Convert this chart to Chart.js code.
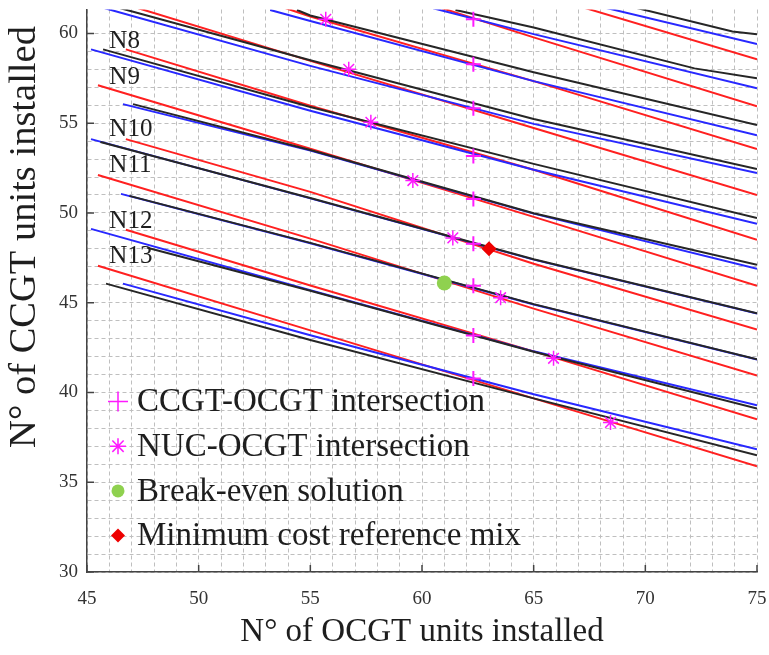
<!DOCTYPE html>
<html>
<head>
<meta charset="utf-8">
<script src="https://cdn.jsdelivr.net/npm/chart.js@4.4.0/dist/chart.umd.min.js"></script>
<style>
  html, body { margin: 0; padding: 0; background: #fff; }
</style>
</head>
<body>
<canvas id="plot" width="769" height="655"></canvas>
<script>
// one [x, y] polyline per nuclear level, top-right group first (N4 ... N13)
const redLines = [
  [[66.8, 61.6], [75, 58.55]],
  [[60.9, 61.4], [65, 59.78], [75, 55.94]],
  [[53.9, 61.4], [55, 60.94], [65, 57.34], [75, 53.56]],
  [[47.3, 61.4], [55, 58.47], [65, 54.73], [75, 51.0]],
  [[46.74, 59.11], [55, 55.97], [65, 52.4], [75, 48.5]],
  [[45.49, 57.11], [55, 53.57], [65, 49.78], [75, 45.94]],
  [[46.74, 54.11], [55, 51.17], [65, 47.17], [75, 43.5]],
  [[45.49, 52.11], [55, 48.57], [65, 44.67], [75, 40.94]],
  [[46.74, 49.06], [55, 45.96], [65, 42.29], [75, 38.5]],
  [[45.49, 47.06], [55, 43.46], [65, 39.67], [75, 35.89]]
];
const blueLines = [
  [[67.8, 61.55], [75, 59.4]],
  [[60.5, 61.4], [65, 59.96], [75, 56.94]],
  [[53.2, 61.3], [55, 60.69], [65, 57.34], [75, 54.33]],
  [[45.8, 61.4], [55, 58.19], [65, 54.96], [75, 52.22]],
  [[45.18, 59.11], [55, 55.69], [65, 52.4], [75, 49.39]],
  [[46.61, 56.06], [55, 53.47], [65, 49.96], [75, 46.89]],
  [[45.18, 54.11], [55, 50.81], [65, 47.4], [75, 44.39]],
  [[46.52, 51.06], [55, 48.31], [65, 44.9], [75, 41.83]],
  [[45.18, 49.11], [55, 45.69], [65, 42.29], [75, 39.28]],
  [[46.61, 46.06], [55, 43.19], [65, 39.9], [75, 36.83]]
];
const blackLines = [
  [[69.5, 61.45], [73.9, 60.1], [75, 59.95]],
  [[61.5, 61.3], [65, 60.33], [72.2, 58.05], [75, 57.5]],
  [[54.4, 61.3], [55, 61.0], [65, 57.84], [75, 54.89]],
  [[46.5, 61.4], [55, 58.5], [65, 55.23], [75, 52.44]],
  [[45.72, 59.11], [55, 55.9], [65, 52.73], [75, 49.72]],
  [[47.06, 56.06], [55, 53.5], [65, 49.98], [75, 47.11]],
  [[45.6, 53.95], [55, 50.83], [65, 47.42], [75, 44.41]],
  [[46.9, 50.95], [55, 48.33], [65, 44.92], [75, 41.85]],
  [[47.7, 48.06], [55, 45.67], [65, 42.27], [75, 39.11]],
  [[45.85, 46.06], [55, 42.92], [65, 39.67], [75, 36.5]]
];

const ccgtOcgt = [
  [62.3, 60.78], [62.3, 58.28], [62.3, 55.83], [62.3, 53.17], [62.3, 50.78],
  [62.3, 48.28], [62.3, 45.94], [62.3, 43.17], [62.3, 40.78]
];
const nucOcgt = [
  [55.69, 60.78], [56.72, 58.0], [57.71, 55.05], [59.59, 51.8],
  [61.38, 48.61], [63.52, 45.28], [65.89, 41.9], [68.44, 38.33]
];
const breakEven = [[61.0, 46.1]];
const minCostMix = [[63.0, 48.0]];

const levelNames = ['N8', 'N9', 'N10', 'N11', 'N12', 'N13'];
const levelX = [46, 46, 46, 46, 46, 46];
const levelY = [59.55, 57.55, 54.65, 52.65, 49.5, 47.6];

const xTicks = [45, 50, 55, 60, 65, 70, 75];
const yTicks = [30, 35, 40, 45, 50, 55, 60];

const SERIF = '"Liberation Serif", "Times New Roman", serif';
const MAGENTA = '#ff1aff';

const toXY = pts => pts.map(([x, y]) => ({ x, y }));

function lineSets(lines, color) {
  return lines.map(pts => ({
    data: toXY(pts),
    showLine: true,
    borderColor: color,
    borderWidth: 2,
    pointRadius: 0,
    fill: false,
    clip: 0,
    order: 2
  }));
}

const legendItems = [
  { text: 'CCGT-OCGT intersection', pointStyle: 'cross', color: MAGENTA, radius: 10, borderWidth: 3, fill: false },
  { text: 'NUC-OCGT intersection', pointStyle: 'star', color: MAGENTA, radius: 8, borderWidth: 2, fill: false },
  { text: 'Break-even solution', pointStyle: 'circle', color: '#8fd14f', radius: 6.5, borderWidth: 0, fill: true },
  { text: 'Minimum cost reference mix', pointStyle: 'rectRot', color: '#ee0000', radius: 7, borderWidth: 0, fill: true }
];

// axis title on the left, inward ticks, level tags and the legend
const decorations = {
  id: 'decorations',
  afterDraw(chart) {
    const { ctx, chartArea: area, scales: { x, y } } = chart;
    ctx.save();

    ctx.strokeStyle = '#444';
    ctx.lineWidth = 1.5;
    ctx.beginPath();
    xTicks.forEach(v => {
      const px = x.getPixelForValue(v);
      ctx.moveTo(px, area.bottom);
      ctx.lineTo(px, area.bottom - 7);
    });
    yTicks.forEach(v => {
      const py = y.getPixelForValue(v);
      ctx.moveTo(area.left, py);
      ctx.lineTo(area.left + 7, py);
    });
    ctx.stroke();

    ctx.fillStyle = '#1e1e1e';
    ctx.textAlign = 'left';
    ctx.textBaseline = 'middle';
    ctx.font = '25px ' + SERIF;
    levelNames.forEach((name, i) => {
      ctx.fillText(name, x.getPixelForValue(levelX[i]), y.getPixelForValue(levelY[i]));
    });

    // legend, inside the axes at the lower left
    const lx = area.left + 31;
    let ly = area.top + 392;
    legendItems.forEach(item => {
      ctx.save();
      ctx.strokeStyle = item.color;
      ctx.fillStyle = item.fill ? item.color : 'rgba(0,0,0,0)';
      Chart.helpers.drawPoint(ctx, {
        pointStyle: item.pointStyle, radius: item.radius,
        borderWidth: item.borderWidth, rotation: 0
      }, lx, ly);
      ctx.restore();
      ctx.fillStyle = '#1e1e1e';
      ctx.font = '33px ' + SERIF;
      ctx.fillText(item.text, lx + 19, ly + 1);
      ly += 44.7;
    });

    ctx.translate(25, 237);
    ctx.rotate(-Math.PI / 2);
    ctx.textAlign = 'center';
    ctx.font = '38.5px ' + SERIF;
    ctx.fillText('N\u00b0 of CCGT units installed', 0, 0);
    ctx.restore();
  }
};

const gridColor = ctx => Number.isInteger(ctx.tick && ctx.tick.value) ? '#bfbfbf' : 'rgba(0,0,0,0)';

new Chart(document.getElementById('plot'), {
  type: 'scatter',
  data: {
    datasets: [
      { data: toXY(minCostMix), pointStyle: 'rectRot', pointRadius: 7.5, backgroundColor: '#ee0000', borderWidth: 0, order: 0 },
      { data: toXY(breakEven), pointStyle: 'circle', pointRadius: 7.5, backgroundColor: '#8fd14f', borderWidth: 0, order: 0 },
      { data: toXY(nucOcgt), pointStyle: 'star', pointRadius: 7.5, borderColor: MAGENTA, backgroundColor: MAGENTA, borderWidth: 1.5, order: 0 },
      { data: toXY(ccgtOcgt), pointStyle: 'cross', pointRadius: 7.5, borderColor: MAGENTA, backgroundColor: MAGENTA, borderWidth: 2, order: 0 },
      ...lineSets(blackLines, '#262626'),
      ...lineSets(blueLines, '#2828ff'),
      ...lineSets(redLines, '#ff2020')
    ]
  },
  options: {
    responsive: false,
    animation: false,
    events: [],
    layout: { padding: { top: 8, right: 12, left: 0, bottom: 0 } },
    plugins: {
      legend: { display: false },
      tooltip: { enabled: false }
    },
    scales: {
      x: {
        type: 'linear',
        min: 45,
        max: 75,
        afterFit: s => { s.height = 83; s.paddingLeft = 0; s.paddingRight = 0; },
        ticks: {
          stepSize: 1,
          autoSkip: false,
          maxRotation: 0,
          padding: 16,
          color: '#333',
          font: { family: SERIF, size: 19 },
          callback: v => (v % 5 === 0 ? v : '')
        },
        grid: { color: gridColor, lineWidth: 1, drawTicks: false },
        border: { display: true, color: '#444', width: 1.5, dash: [4, 3] },
        title: {
          display: true,
          text: 'N\u00b0 of OCGT units installed',
          color: '#1e1e1e',
          font: { family: SERIF, size: 33 },
          padding: { top: 0, bottom: 3 }
        }
      },
      y: {
        type: 'linear',
        min: 30,
        max: 61.33,
        afterFit: s => { s.width = 87; s.paddingTop = 0; s.paddingBottom = 0; },
        ticks: {
          stepSize: 1,
          autoSkip: false,
          padding: 9,
          color: '#333',
          font: { family: SERIF, size: 19 },
          callback: v => (Number.isInteger(v) && v % 5 === 0 ? v : '')
        },
        grid: { color: gridColor, lineWidth: 1, drawTicks: false },
        border: { display: true, color: '#444', width: 1.5, dash: [4, 3] }
      }
    }
  },
  plugins: [decorations]
});
</script>
</body>
</html>
